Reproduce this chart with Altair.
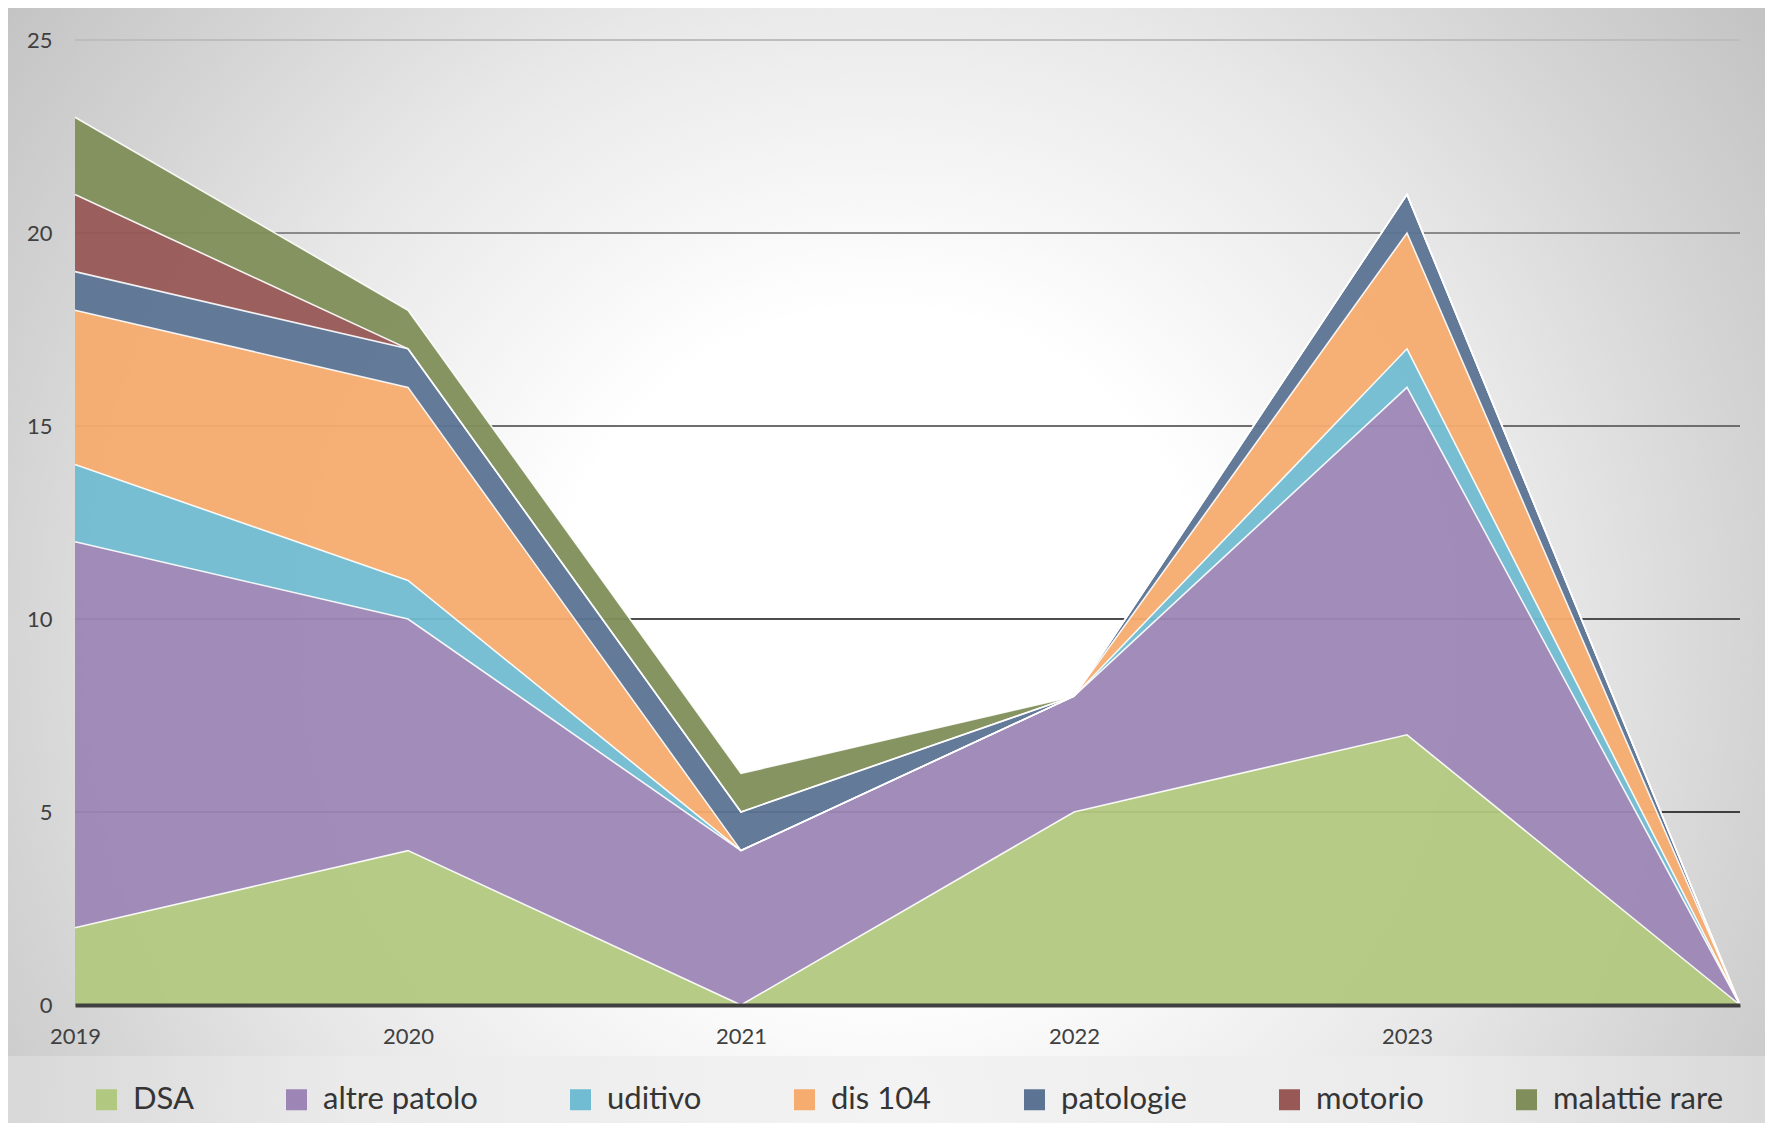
import altair as alt
import pandas as pd

years = ["2019", "2020", "2021", "2022", "2023", ""]
series = ["DSA", "altre patolo", "uditivo", "dis 104", "patologie", "motorio", "malattie rare"]
dsa = [2, 4, 0, 5, 7, 0]
altre = [10, 6, 4, 3, 9, 0]
uditivo = [2, 1, 0, 0, 1, 0]
dis104 = [4, 5, 0, 0, 3, 0]
patologie = [1, 1, 1, 0, 1, 0]
motorio = [2, 0, 0, 0, 0, 0]
malattie = [2, 1, 1, 0, 0, 0]
values_by_series = [dsa, altre, uditivo, dis104, patologie, motorio, malattie]

colors = ["#b1c880", "#9d86b5", "#71bcd2", "#f6ac6f", "#5c7393", "#975856", "#7f8e5a"]
grid_values = [5, 10, 15, 20, 25]
grid_colors = ["#3f3f3f", "#4d4d4d", "#6e6e6e", "#8a8a8a", "#bdbdbd"]

rows = []
for si, (name, vals) in enumerate(zip(series, values_by_series)):
    for xi, v in enumerate(vals):
        rows.append({"x": xi, "series": name, "value": v, "idx": si})
df = pd.DataFrame(rows)

W, H = 1665, 965
one = pd.DataFrame({"a": [0]})
label_expr = "[" + ",".join("'" + y + "'" for y in years) + "][datum.value]"

x_scale = alt.Scale(domain=[0, 5], nice=False)
x_axis = alt.Axis(values=[0, 1, 2, 3, 4, 5], labelExpr=label_expr, grid=False,
                  ticks=False, tickSize=0, domain=True, domainColor="#404040",
                  domainWidth=4, labelFontSize=22, labelColor="#404040",
                  labelPadding=21, labelFlush=False, labelOverlap=False,
                  title=None, zindex=1, labelFont="Lato")
y_scale = alt.Scale(domain=[0, 25], nice=False)
y_axis = alt.Axis(values=[0, 5, 10, 15, 20, 25], grid=False, domain=False,
                  ticks=False, tickSize=0, labelFontSize=22, labelColor="#404040",
                  labelPadding=23, title=None, zindex=1, labelFont="Lato")

bg_grad = alt.RadialGradient(
    gradient="radial", x1=0.5, y1=0.5, r1=0, x2=0.5, y2=0.5, r2=0.5,
    stops=[alt.GradientStop(offset=0, color="#ffffff"),
           alt.GradientStop(offset=0.3, color="#ffffff"),
           alt.GradientStop(offset=0.6, color="#e8e8e8"),
           alt.GradientStop(offset=0.8, color="#d4d4d4"),
           alt.GradientStop(offset=1, color="#c2c2c2")])
bg = alt.Chart(one).mark_rect(fill=bg_grad).encode(
    x=alt.value(-295), x2=alt.value(1905), y=alt.value(-500), y2=alt.value(1700))

leg_grad = alt.RadialGradient(
    gradient="radial", x1=0.5, y1=0.5, r1=0, x2=0.5, y2=0.5, r2=0.5,
    stops=[alt.GradientStop(offset=0, color="#f3f3f3"),
           alt.GradientStop(offset=0.6, color="#ebebeb"),
           alt.GradientStop(offset=1, color="#d8d8d8")])
legband = alt.Chart(one).mark_rect(fill=leg_grad).encode(
    x=alt.value(-67), x2=alt.value(1710), y=alt.value(1016), y2=alt.value(1110))

rules = []
for gv, gc in zip(grid_values, grid_colors):
    rules.append(alt.Chart(one).mark_rule(color=gc, strokeWidth=2).encode(
        y=alt.Y(datum=gv), x=alt.value(0), x2=alt.value(W)))

areas = alt.Chart(df).mark_area(opacity=0.95).encode(
    x=alt.X("x:Q", scale=x_scale, axis=x_axis),
    y=alt.Y("value:Q", stack="zero", scale=y_scale, axis=y_axis),
    color=alt.Color("series:N", scale=alt.Scale(domain=series, range=colors),
                    legend=alt.Legend(title=None, orient="none", legendX=16, legendY=1044,
                                      direction="horizontal", columns=7, columnPadding=87,
                                      labelOffset=11, symbolSize=441, symbolType="square",
                                      symbolStrokeWidth=0, symbolOpacity=1, labelFontSize=31,
                                      labelColor="#353535", labelFont="Lato", labelLimit=0,
                                      padding=0)),
    order=alt.Order("idx:Q"),
)

edges = alt.Chart(df).transform_window(
    cum="sum(value)", groupby=["x"], sort=[alt.SortField("idx", order="ascending")],
    frame=[None, 0]
).mark_line(color="white", strokeWidth=1.6, opacity=0.9).encode(
    x=alt.X("x:Q", scale=x_scale, axis=x_axis),
    y=alt.Y("cum:Q", scale=y_scale, axis=y_axis),
    detail="series:N",
)

chart = alt.layer(bg, legband, *rules, areas, edges).properties(
    width=W, height=H,
    padding={"left": 67, "top": 32, "right": 25, "bottom": 118},
    autosize=alt.AutoSizeParams(type="none"),
    background="white",
).configure_view(stroke=None)

chart.save("out.html", embed_options={"renderer": "svg", "actions": False})
